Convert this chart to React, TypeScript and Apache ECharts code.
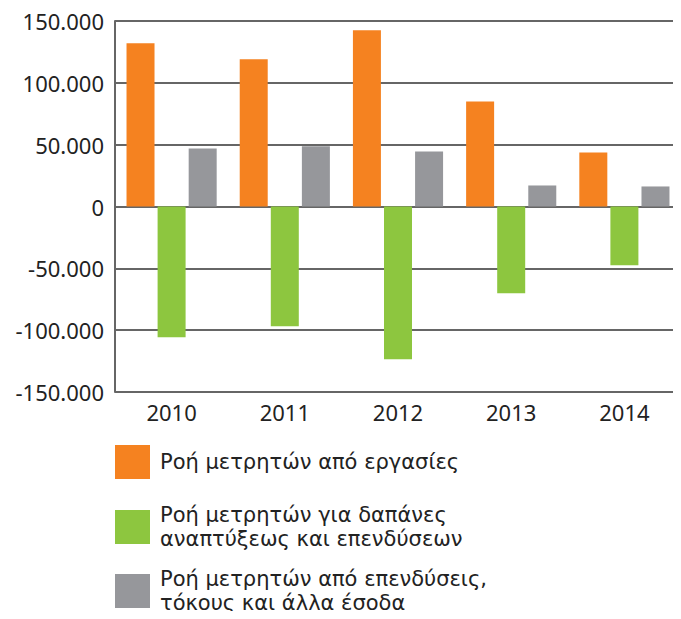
import React, { useEffect, useRef } from "react";
import * as echarts from "echarts";

const categories = ["2010", "2011", "2012", "2013", "2014"];
const seriesNames = [
  "Ροή μετρητών από εργασίες",
  "Ροή μετρητών για δαπάνες\nαναπτύξεως και επενδύσεων",
  "Ροή μετρητών από επενδύσεις,\nτόκους και άλλα έσοδα",
];
const operations = [132000, 119000, 142500, 85000, 43700];
const investmentSpending = [-105700, -96800, -123500, -70100, -47500];
const investmentIncome = [46900, 48800, 44500, 17000, 16200];
const colors = ["#F58220", "#8DC63F", "#96979B"];
const yTicks = { min: -150000, max: 150000, interval: 50000 };

const fmt = (v: number) => {
  const s = String(Math.abs(v)).replace(/\B(?=(\d{3})+(?!\d))/g, ".");
  return (v < 0 ? "-" : "") + s;
};

const FONT = "Noto Sans";
const LEGEND_FONT = "DejaVu Sans";

export default function App() {
  const ref = useRef<HTMLDivElement>(null);
  useEffect(() => {
    if (!ref.current) return;
    const chart = echarts.init(ref.current, null, { renderer: "svg" });
    const values = [operations, investmentSpending, investmentIncome];
    const legendTops = [445, 503, 567];
    chart.setOption({
      animation: false,
      grid: { left: 115, right: 0, top: 21, bottom: 227, containLabel: false },
      xAxis: {
        type: "category",
        data: categories,
        axisLine: { show: false },
        axisTick: { show: false },
        axisLabel: { fontFamily: FONT, fontSize: 22, color: "#222", margin: 9 },
      },
      yAxis: {
        type: "value",
        min: yTicks.min,
        max: yTicks.max,
        interval: yTicks.interval,
        axisLine: { show: true, lineStyle: { color: "#666", width: 2 } },
        axisTick: { show: false },
        splitLine: { show: true, lineStyle: { color: "#333", width: 1.5 } },
        axisLabel: {
          fontFamily: FONT,
          fontSize: 22,
          color: "#222",
          margin: 11,
          formatter: (v: number) => fmt(v),
        },
      },
      legend: seriesNames.map((n, i) => ({
        data: [n],
        orient: "vertical",
        left: 115,
        top: legendTops[i],
        padding: 0,
        itemWidth: 35,
        itemHeight: 34,
        icon: "rect",
        itemGap: 0,
        textStyle: { fontFamily: LEGEND_FONT, fontSize: 21, color: "#222", lineHeight: 24, padding: [0, 0, 0, 5] },
      })),
      series: seriesNames.map((n, i) => ({
        name: n,
        type: "bar",
        data: values[i],
        barWidth: 28,
        barGap: "11%",
        itemStyle: { color: colors[i] },
      })),
    });
    return () => chart.dispose();
  }, []);
  return <div ref={ref} style={{ width: 681, height: 619, margin: -8 }} />;
}
